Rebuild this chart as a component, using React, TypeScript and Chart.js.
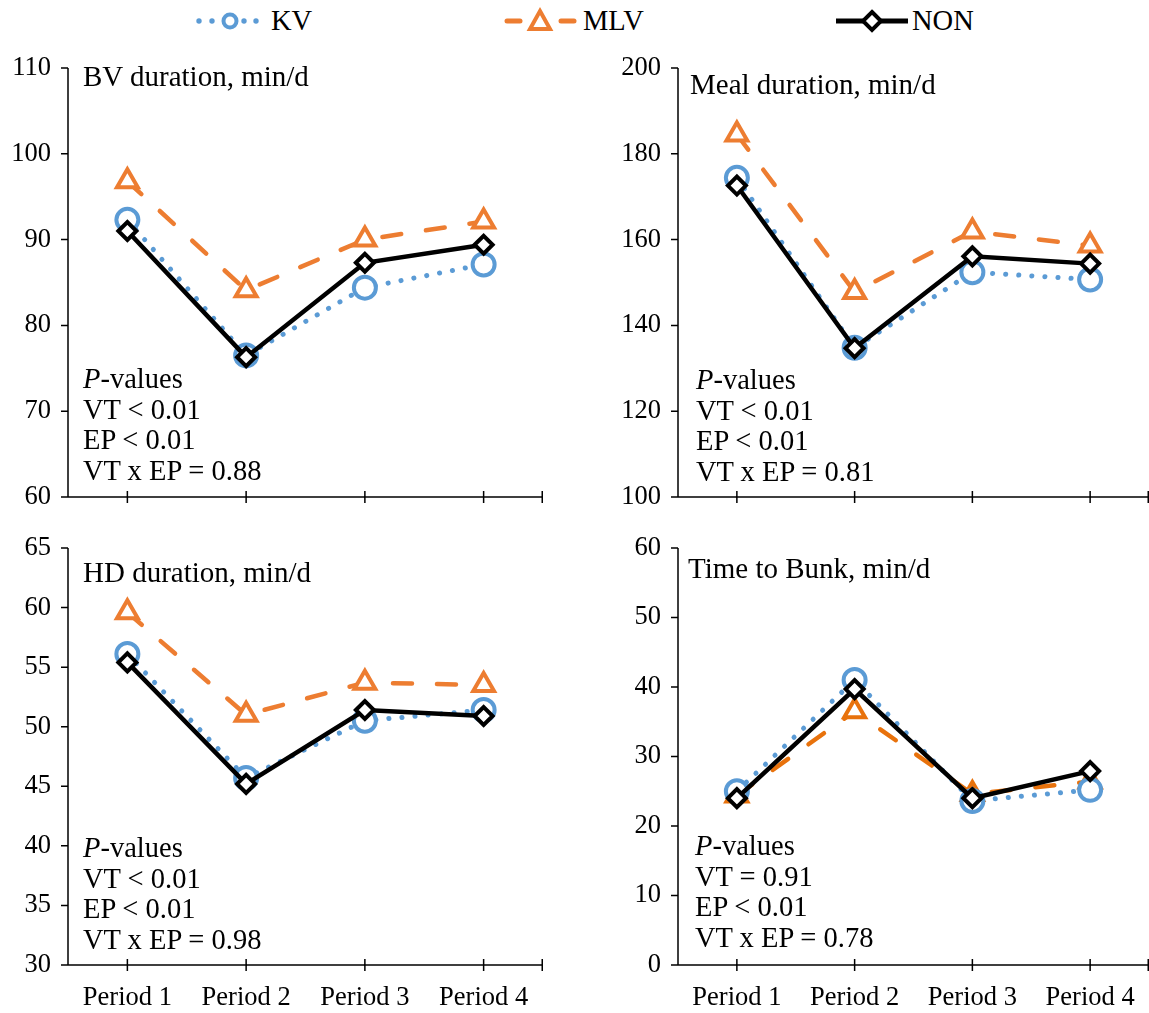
import React, { useEffect, useRef } from "react";
import { Chart, registerables } from "chart.js";
Chart.register(...registerables);

const periods = ["Period 1", "Period 2", "Period 3", "Period 4"];
const seriesNames = ["KV", "MLV", "NON"];

const bvKV = [92.3, 76.5, 84.4, 87.1];
const bvMLV = [96.8, 84.1, 90.0, 92.1];
const bvNON = [91.0, 76.3, 87.3, 89.4];
const bvTicks = { min: 60, max: 110, step: 10 };

const mealKV = [174.4, 134.8, 152.4, 150.7];
const mealMLV = [184.5, 147.8, 161.9, 158.6];
const mealNON = [172.6, 134.7, 156.1, 154.4];
const mealTicks = { min: 100, max: 200, step: 20 };

const hdKV = [56.1, 45.7, 50.5, 51.4];
const hdMLV = [59.6, 51.0, 53.7, 53.5];
const hdNON = [55.4, 45.2, 51.4, 50.9];
const hdTicks = { min: 30, max: 65, step: 5 };

const bunkKV = [25.0, 41.0, 23.6, 25.2];
const bunkMLV = [24.4, 36.5, 24.6, 26.4];
const bunkNON = [24.0, 39.7, 24.0, 27.9];
const bunkTicks = { min: 0, max: 60, step: 10 };

const pTextBV = ["VT < 0.01", "EP < 0.01", "VT x EP = 0.88"];
const pTextMeal = ["VT < 0.01", "EP < 0.01", "VT x EP = 0.81"];
const pTextHD = ["VT < 0.01", "EP < 0.01", "VT x EP = 0.98"];
const pTextBunk = ["VT = 0.91", "EP < 0.01", "VT x EP = 0.78"];

const BLUE = "#5B9BD5";
const ORANGE = "#ED7D31";
const FONT = "'Liberation Serif', 'Times New Roman', serif";

const axisPlugin = {
  id: "axisLines",
  beforeDatasetsDraw(chart: any) {
    const { ctx, chartArea: a, scales } = chart;
    const x = scales.x;
    const y = scales.y;
    ctx.save();
    ctx.strokeStyle = "#000";
    ctx.lineWidth = 1.5;
    ctx.beginPath();
    ctx.moveTo(a.left, a.top);
    ctx.lineTo(a.left, a.bottom);
    ctx.lineTo(a.right, a.bottom);
    y.ticks.forEach((_t: any, i: number) => {
      const py = y.getPixelForTick(i);
      ctx.moveTo(a.left - 7, py);
      ctx.lineTo(a.left, py);
    });
    x.ticks.forEach((_t: any, i: number) => {
      const px = x.getPixelForTick(i);
      ctx.moveTo(px, a.bottom - 6);
      ctx.lineTo(px, a.bottom + 6);
    });
    ctx.moveTo(a.right - 0.75, a.bottom - 6);
    ctx.lineTo(a.right - 0.75, a.bottom + 6);
    ctx.stroke();
    ctx.restore();
  },
};

type PanelProps = {
  left: number;
  top: number;
  width: number;
  height: number;
  area: { l: number; t: number; r: number; b: number };
  ticks: { min: number; max: number; step: number };
  kv: number[];
  mlv: number[];
  non: number[];
  showX: boolean;
  orange?: string;
};

function Panel(p: PanelProps) {
  const ref = useRef<HTMLCanvasElement>(null);
  useEffect(() => {
    const xH = p.top + p.height - p.area.b;
    const yW = p.area.l - p.left;
    const pad = { top: p.area.t - p.top, right: p.left + p.width - p.area.r, left: 0, bottom: 0 };
    const orange = p.orange || ORANGE;
    const chart = new Chart(ref.current as HTMLCanvasElement, {
      type: "line",
      data: {
        labels: periods,
        datasets: [
          {
            label: seriesNames[0],
            data: p.kv,
            borderColor: BLUE,
            borderWidth: 5,
            borderDash: [0.1, 13],
            borderCapStyle: "round",
            pointStyle: "circle",
            pointRadius: 11,
            pointBorderWidth: 4,
            pointBorderColor: BLUE,
            pointBackgroundColor: "#fff",
            tension: 0,
            order: 1,
          },
          {
            label: seriesNames[1],
            data: p.mlv,
            borderColor: orange,
            borderWidth: 4.5,
            borderDash: [19, 25],
            borderCapStyle: "round",
            pointStyle: "triangle",
            pointRadius: 12,
            pointBorderWidth: 4,
            pointBorderColor: orange,
            pointBackgroundColor: "#fff",
            tension: 0,
            order: 2,
          },
          {
            label: seriesNames[2],
            data: p.non,
            borderColor: "#000",
            borderWidth: 4.5,
            pointStyle: "rectRot",
            pointRadius: 9,
            pointBorderWidth: 4,
            pointBorderColor: "#000",
            pointBackgroundColor: "#fff",
            tension: 0,
            order: 0,
          },
        ],
      } as any,
      options: {
        animation: false,
        responsive: false,
        maintainAspectRatio: false,
        layout: { padding: pad, autoPadding: false },
        plugins: { legend: { display: false }, tooltip: { enabled: false } },
        scales: {
          x: {
            type: "category",
            offset: true,
            grid: { display: false, drawTicks: false },
            border: { display: false },
            ticks: {
              display: p.showX,
              padding: 17,
              color: "#000",
              font: { family: FONT, size: 26.5 },
              maxRotation: 0,
              autoSkip: false,
            },
            afterFit: (s: any) => {
              s.height = xH;
            },
          },
          y: {
            min: p.ticks.min,
            max: p.ticks.max,
            grid: { display: false, drawTicks: false },
            border: { display: false },
            ticks: {
              stepSize: p.ticks.step,
              padding: 17,
              color: "#000",
              font: { family: FONT, size: 26.5 },
            },
            afterFit: (s: any) => {
              s.width = yW;
            },
          },
        },
      } as any,
      plugins: [axisPlugin],
    });
    return () => chart.destroy();
  }, []);
  return (
    <canvas
      ref={ref}
      width={p.width}
      height={p.height}
      style={{ position: "absolute", left: p.left, top: p.top, width: p.width, height: p.height }}
    />
  );
}

function Note(props: { x: number; y: number; title: string; lines: string[]; pY: number; pX: number }) {
  const base: React.CSSProperties = {
    position: "absolute",
    fontFamily: FONT,
    fontSize: 28.5,
    lineHeight: "30.5px",
    color: "#000",
    whiteSpace: "nowrap",
  };
  return (
    <>
      <div style={{ ...base, fontSize: 29, left: props.x, top: props.y }}>{props.title}</div>
      <div style={{ ...base, left: props.pX, top: props.pY }}>
        <div>
          <i>P</i>-values
        </div>
        {props.lines.map((l) => (
          <div key={l}>{l}</div>
        ))}
      </div>
    </>
  );
}

function Legend() {
  const ty = 30;
  const fs = 28.5;
  return (
    <svg width={1149} height={45} style={{ position: "absolute", left: 0, top: 0 }}>
      {[199, 212, 244, 256].map((cx) => (
        <circle key={cx} cx={cx} cy={21} r={2.7} fill={BLUE} />
      ))}
      <circle cx={230} cy={21} r={6.5} fill="#fff" stroke={BLUE} strokeWidth={4} />
      <text x={271} y={ty} fontFamily={FONT} fontSize={fs} fill="#000">{seriesNames[0]}</text>

      <line x1={507} y1={21} x2={520} y2={21} stroke={ORANGE} strokeWidth={5} strokeLinecap="round" />
      <line x1={561} y1={21} x2={574} y2={21} stroke={ORANGE} strokeWidth={5} strokeLinecap="round" />
      <polygon points="540,11 550,29 530,29" fill="#fff" stroke={ORANGE} strokeWidth={4} strokeLinejoin="miter" />
      <text x={583} y={ty} fontFamily={FONT} fontSize={fs} fill="#000">{seriesNames[1]}</text>

      <line x1={836} y1={21} x2={908} y2={21} stroke="#000" strokeWidth={5} />
      <polygon points="872,12 881,21 872,30 863,21" fill="#fff" stroke="#000" strokeWidth={4} />
      <text x={912} y={ty} fontFamily={FONT} fontSize={fs} fill="#000">{seriesNames[2]}</text>
    </svg>
  );
}

export default function App() {
  return (
    <div style={{ position: "absolute", left: 0, top: 0, width: 1149, height: 1013, background: "#fff", overflow: "hidden" }}>
      <Legend />
      <Panel left={0} top={30} width={560} height={505} area={{ l: 68, t: 68, r: 543, b: 497 }} ticks={bvTicks} kv={bvKV} mlv={bvMLV} non={bvNON} showX={false} />
      <Panel left={600} top={30} width={565} height={505} area={{ l: 678, t: 68, r: 1149, b: 497 }} ticks={mealTicks} kv={mealKV} mlv={mealMLV} non={mealNON} showX={false} />
      <Panel left={0} top={510} width={560} height={503} area={{ l: 68, t: 548, r: 543, b: 965 }} ticks={hdTicks} kv={hdKV} mlv={hdMLV} non={hdNON} showX={true} />
      <Panel left={600} top={510} width={565} height={503} area={{ l: 678, t: 548, r: 1149, b: 965 }} ticks={bunkTicks} kv={bunkKV} mlv={bunkMLV} non={bunkNON} showX={true} orange="#E8720C" />
      <Note x={83} y={61} title="BV duration, min/d" pX={83} pY={364} lines={pTextBV} />
      <Note x={690} y={69} title="Meal duration, min/d" pX={696} pY={365} lines={pTextMeal} />
      <Note x={83} y={557} title="HD duration, min/d" pX={83} pY={833} lines={pTextHD} />
      <Note x={688} y={553} title="Time to Bunk, min/d" pX={695} pY={831} lines={pTextBunk} />
    </div>
  );
}
